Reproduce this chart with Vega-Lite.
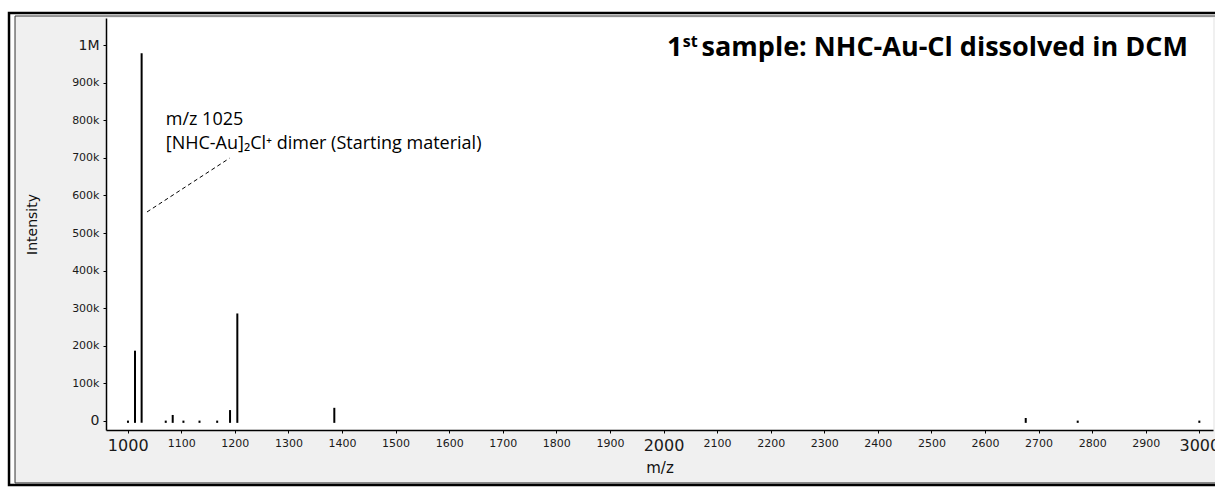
{
  "$schema": "https://vega.github.io/schema/vega-lite/v6.json",
  "width": 1107,
  "height": 412,
  "autosize": "none",
  "padding": {"left": 106, "top": 18, "right": 2, "bottom": 57},
  "background": "white",
  "data": {"values": [{}]},
  "config": {
    "view": {"fill": null, "stroke": null},
    "axis": {"domainColor": "black", "domainWidth": 1.5, "tickColor": "black", "tickSize": 3, "grid": false, "labelFont": "DejaVu Sans", "labelColor": "#1a1a1a", "titleFont": "DejaVu Sans", "titleFontWeight": "normal", "titleColor": "#111"}
  },
  "datasets": {
    "peaks": [
      {"mz": 1000.5, "intensity": 1000},
      {"mz": 1013.6, "intensity": 187000},
      {"mz": 1026, "intensity": 978000},
      {"mz": 1071, "intensity": 1000},
      {"mz": 1084, "intensity": 16000},
      {"mz": 1104, "intensity": 1000},
      {"mz": 1134, "intensity": 1000},
      {"mz": 1167, "intensity": 1000},
      {"mz": 1191, "intensity": 29000},
      {"mz": 1204.6, "intensity": 286000},
      {"mz": 1385.6, "intensity": 35000},
      {"mz": 2676, "intensity": 8000},
      {"mz": 2773, "intensity": 1000},
      {"mz": 3000, "intensity": 1000}
    ],
    "leader": [{"x1": 1036, "y1": 556000, "x2": 1190, "y2": 699000}],
    "labels": [
      {"mz": 1071, "intensity": 787000, "text": "m/z 1025"},
      {"mz": 1071, "intensity": 723000, "text": "[NHC-Au]₂Cl⁺ dimer (Starting material)"}
    ],
    "title": [
      {"mz": 2006.5, "intensity": 972000, "text": "1"},
      {"mz": 2036, "intensity": 995000, "text": "st"},
      {"mz": 2071, "intensity": 972000, "text": "sample: NHC-Au-Cl dissolved in DCM"}
    ]
  },
  "layer": [
    {
      "mark": {"type": "rect", "fill": "#f0f0f0", "stroke": "#333", "strokeWidth": 1},
      "encoding": {
        "x": {"datum": 789.7, "type": "quantitative"},
        "x2": {"datum": 3100},
        "y": {"datum": 1077300, "type": "quantitative"},
        "y2": {"datum": -164900}
      }
    },
    {
      "mark": {"type": "rect", "fill": null, "stroke": "black", "strokeWidth": 2.5},
      "encoding": {
        "x": {"datum": 778.5, "type": "quantitative"},
        "x2": {"datum": 3100},
        "y": {"datum": 1085300, "type": "quantitative"},
        "y2": {"datum": -170220}
      }
    },
    {
      "mark": {"type": "rect", "fill": "white"},
      "encoding": {
        "x": {"datum": 959.5, "type": "quantitative"},
        "x2": {"datum": 3025.5},
        "y": {"datum": 1072000, "type": "quantitative"},
        "y2": {"datum": -24000}
      }
    },
    {
      "data": {"name": "peaks"},
      "mark": {"type": "rule", "color": "black", "strokeWidth": 2},
      "encoding": {
        "x": {
          "field": "mz", "type": "quantitative",
          "scale": {"domain": [959.5, 3025.5], "nice": false, "zero": false},
          "axis": {
            "zindex": 2,
            "title": "m/z", "titleFontSize": 15, "titlePadding": 7,
            "values": [1000,1100,1200,1300,1400,1500,1600,1700,1800,1900,2000,2100,2200,2300,2400,2500,2600,2700,2800,2900,3000],
            "format": "d",
            "labelFontSize": {"condition": {"test": "datum.value % 1000 === 0", "value": 16}, "value": 11},
            "labelPadding": 4, "labelFlush": false, "labelOverlap": false
          }
        },
        "y": {
          "field": "intensity", "type": "quantitative",
          "scale": {"domain": [-24000, 1072000], "nice": false, "zero": false},
          "axis": {
            "zindex": 2,
            "title": "Intensity", "titleFontSize": 14, "titlePadding": 32,
            "values": [0,100000,200000,300000,400000,500000,600000,700000,800000,900000,1000000],
            "labelExpr": "datum.value === 0 ? '0' : (datum.value === 1000000 ? '1M' : (datum.value / 1000) + 'k')",
            "labelFontSize": {"condition": {"test": "datum.value === 0 || datum.value === 1000000", "value": 14}, "value": 11},
            "labelPadding": 4, "labelFlush": false, "labelOverlap": false
          }
        },
        "y2": {"datum": -5000}
      }
    },
    {
      "data": {"name": "leader"},
      "mark": {"type": "rule", "color": "black", "strokeWidth": 1, "strokeDash": [4, 3]},
      "encoding": {
        "x": {"field": "x1", "type": "quantitative"},
        "y": {"field": "y1", "type": "quantitative"},
        "x2": {"field": "x2"},
        "y2": {"field": "y2"}
      }
    },
    {
      "data": {"name": "labels"},
      "mark": {"type": "text", "align": "left", "baseline": "alphabetic", "font": "Open Sans", "fontSize": 18, "color": "black"},
      "encoding": {
        "x": {"field": "mz", "type": "quantitative"},
        "y": {"field": "intensity", "type": "quantitative"},
        "text": {"field": "text"}
      }
    },
    {
      "data": {"name": "title"},
      "mark": {"type": "text", "align": "left", "baseline": "alphabetic", "font": "Open Sans", "fontWeight": "bold", "color": "black"},
      "encoding": {
        "x": {"field": "mz", "type": "quantitative"},
        "y": {"field": "intensity", "type": "quantitative"},
        "text": {"field": "text"},
        "size": {"condition": {"test": "datum.text === 'st'", "value": 16}, "value": 27}
      }
    }
  ]
}
